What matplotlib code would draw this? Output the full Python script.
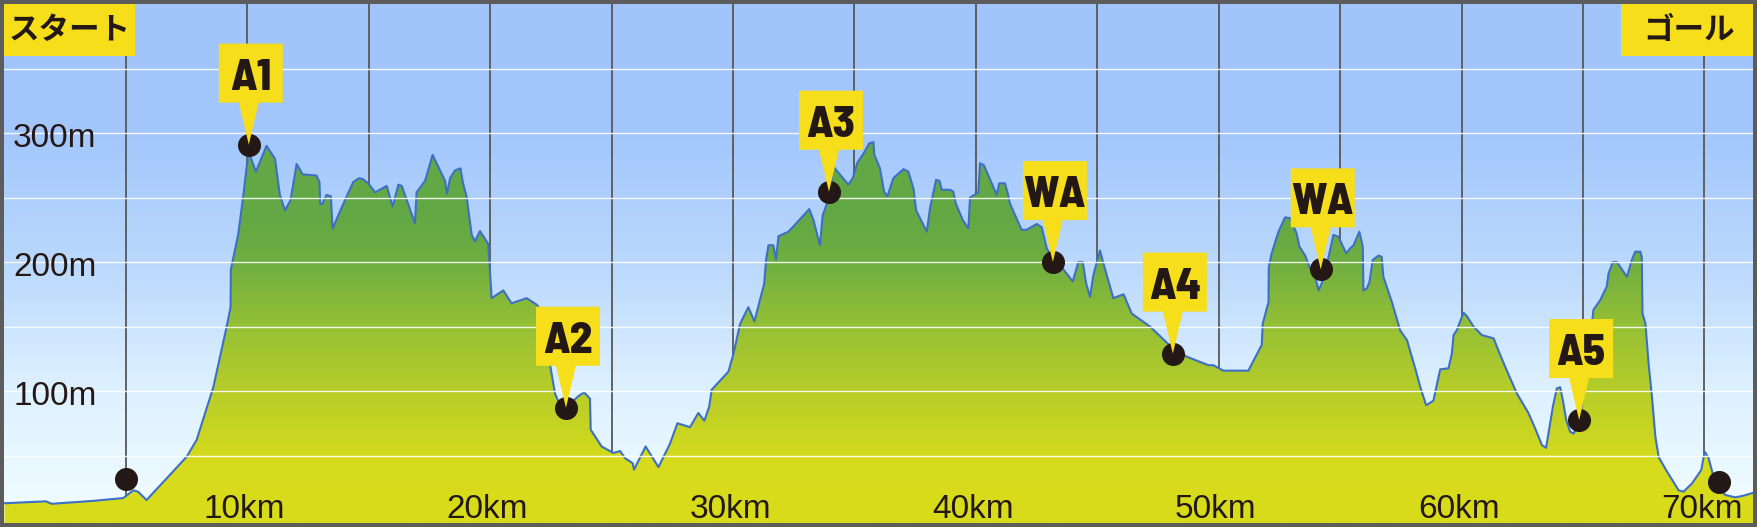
import matplotlib
matplotlib.use('Agg')
import matplotlib.pyplot as plt
import numpy as np
from matplotlib import font_manager
from matplotlib.colors import to_rgb
from matplotlib.patches import Polygon, Rectangle
from matplotlib.transforms import Affine2D, ScaledTranslation, blended_transform_factory

# course profile (distance in km, elevation in m)
dist_km = [
    0.0, 1.7, 1.95, 3.76, 4.0, 4.89, 5.3, 5.5, 5.85, 7.5,
    7.91, 8.6, 9.15, 9.31, 9.32, 9.63, 9.83, 10.05, 10.35, 10.79,
    11.14, 11.34, 11.55, 11.78, 12.03, 12.28, 12.85, 12.97, 13.0, 13.08,
    13.26, 13.44, 13.51, 14.02, 14.36, 14.6, 14.78, 14.98, 15.26, 15.74,
    15.98, 16.22, 16.36, 16.9, 16.97, 17.32, 17.63, 18.14, 18.22, 18.35,
    18.55, 18.78, 18.87, 19.03, 19.24, 19.37, 19.58, 19.92, 20.06, 20.54,
    20.88, 21.5, 21.91, 22.2, 22.46, 22.67, 22.9, 23.12, 23.4, 23.63,
    23.87, 24.11, 24.14, 24.59, 25.07, 25.35, 25.55, 25.87, 25.92, 26.4,
    26.93, 27.4, 27.71, 28.23, 28.57, 28.82, 29.02, 29.12, 29.81, 30.02,
    30.29, 30.63, 30.88, 31.18, 31.28, 31.36, 31.46, 31.66, 31.77, 31.87,
    32.28, 32.55, 33.14, 33.31, 33.58, 33.69, 33.95, 34.13, 34.75, 34.93,
    35.12, 35.37, 35.61, 35.78, 35.82, 36.05, 36.22, 36.36, 36.6, 37.02,
    37.22, 37.43, 37.54, 37.91, 37.98, 38.11, 38.36, 38.5, 38.59, 38.94,
    39.07, 39.18, 39.46, 39.69, 39.76, 40.1, 40.17, 40.33, 40.72, 40.86,
    40.96, 41.2, 41.33, 41.4, 41.88, 42.09, 42.51, 42.71, 42.92, 43.17,
    43.61, 43.99, 44.22, 44.4, 44.54, 44.7, 44.84, 45.11, 45.25, 45.66,
    46.08, 46.42, 46.76, 47.17, 47.72, 48.11, 48.69, 49.1, 49.58, 49.78,
    50.19, 51.22, 51.77, 51.81, 52.05, 52.06, 52.18, 52.46, 52.73, 52.94,
    53.21, 53.32, 53.56, 53.76, 53.97, 54.11, 54.24, 54.45, 54.72, 54.93,
    55.25, 55.41, 55.55, 55.79, 55.93, 55.96, 56.1, 56.21, 56.34, 56.58,
    56.71, 56.78, 57.13, 57.47, 57.75, 58.09, 58.3, 58.54, 58.84, 59.12,
    59.46, 59.6, 59.67, 59.8, 60.08, 60.22, 60.49, 60.83, 61.32, 61.59,
    61.86, 62.28, 62.76, 63.03, 63.31, 63.48, 63.76, 63.92, 64.06, 64.17,
    64.31, 64.47, 64.61, 64.84, 64.95, 65.23, 65.43, 65.71, 65.98, 66.05,
    66.23, 66.39, 66.81, 67.01, 67.15, 67.36, 67.42, 67.45, 67.57, 67.7,
    67.84, 67.98, 68.12, 68.46, 68.94, 69.14, 69.49, 69.87, 70.01, 70.17,
    70.45, 70.86, 71.27, 71.55, 72.03,
]
elev_m = [
    13, 14.5, 12.6, 15, 15.5, 17, 23, 22, 15.5, 49,
    62, 103, 150, 165, 194, 222, 251, 286, 270, 290,
    280, 252, 240, 248, 276, 268, 267, 262, 245, 245,
    252, 251, 226, 248, 262, 265, 264, 261, 254, 259,
    243, 260, 259, 230, 254, 263, 283, 263, 253, 265,
    271, 272.6, 262, 250.6, 221, 216, 224, 214, 172, 178,
    168, 172, 167, 160, 121, 98, 88, 85, 92, 96,
    99, 94, 70, 57, 52, 53.5, 48, 44, 39, 57,
    41, 59, 75, 72, 83, 77, 88, 101, 115, 129,
    152, 165, 154, 176, 183, 201.6, 213, 213, 202, 220,
    223.5, 229, 241, 232.6, 213, 236, 250, 274, 260, 265,
    277, 284, 292, 293, 283, 272.6, 254.5, 251, 265, 272,
    270, 257, 240, 226, 223.5, 241.6, 263.6, 263, 256, 256,
    254.5, 245, 232.6, 226, 250, 254, 276.5, 275, 258, 252,
    261, 261, 252, 245.5, 225, 225, 229.5, 227, 210.6, 202,
    194, 185, 200, 200, 183.5, 173, 190, 209, 199, 172,
    175, 160, 155.5, 150, 140, 133, 126.6, 123.5, 120, 120,
    115.8, 115.8, 135.7, 152, 169, 196, 206.7, 223.5, 234.6, 234,
    222, 212, 205, 195, 188.6, 178, 183.5, 197.7, 221, 219.6,
    206.7, 210.6, 213, 223.5, 212, 178, 179.6, 184.8, 201.6, 205,
    204, 188.6, 169, 147, 139.5, 117.6, 103, 89, 92.5, 116.8,
    117.6, 129, 143.4, 147, 160.7, 158, 150, 143.4, 140.8, 128,
    116, 98, 82.7, 71, 58, 56, 88, 102, 103, 93,
    77.5, 68.5, 67, 75, 88, 129, 163, 170.5, 181, 191,
    200, 200, 188.6, 201.6, 208, 208, 204, 160, 152.5, 121.4,
    95.6, 64.6, 48.6, 37.5, 23, 22, 28.4, 38.8, 53, 48,
    28.4, 19.4, 17.6, 18.6, 21.2,
]
assert len(dist_km) == len(elev_m)

# start, aid stations, goal
point_km = [5.02, 10.06, 23.12, 33.95, 43.17, 48.11, 54.20, 64.84, 70.59]
point_m = [31.5, 291, 87, 254.5, 200, 129, 194.3, 77.5, 29.7]
point_labels = ['', 'A1', 'A2', 'A3', 'WA', 'A4', 'WA', 'A5', '']

grid_km = list(range(5, 71, 5))
grid_m = list(range(50, 351, 50))
km_ticks = [10, 20, 30, 40, 50, 60, 70]
m_ticks = [100, 200, 300]
start_label = 'スタート'
goal_label = 'ゴール'

TEXT = '#231815'
YELLOW = '#f6df1a'
LINE = '#3d70c4'
VGRID = '#575757'
FRAME = '#5c5c5c'

sky_stops = [(0, '#f2fdff'), (100, '#def1ff'), (200, '#bad8fd'), (300, '#a3c7fc'), (400, '#a1c5fb')]
fill_stops = [(0, '#d9dc1a'), (45, '#d6db1c'), (100, '#b6cd29'), (150, '#95c035'),
              (200, '#6fae41'), (235, '#62a844'), (400, '#62a844')]

names = {f.name for f in font_manager.fontManager.ttflist}
label_font = [n for n in ('Barlow Semi Condensed', 'Barlow Condensed', 'Asap Condensed')
              if n in names] + ['DejaVu Sans']
tick_font = 'Liberation Sans' if 'Liberation Sans' in names else 'DejaVu Sans'
jp_font = ['Noto Sans CJK JP', 'DejaVu Sans']


def gradient(stops, ys):
    levels = [s[0] for s in stops]
    cols = np.array([to_rgb(s[1]) for s in stops])
    return np.stack([np.interp(ys, levels, cols[:, i]) for i in range(3)], axis=-1)[:, None, :]


W, H = 1757, 527
fig = plt.figure(figsize=(W / 100, H / 100), dpi=100, facecolor=FRAME)
ax = fig.add_axes([4 / W, 4 / H, (W - 8) / W, (H - 8) / H])
x0, x1 = -0.02, 72.0
y0, y1 = -2.3, 400.0
ax.set_xlim(x0, x1)
ax.set_ylim(y0, y1)
ax.axis('off')

ys = np.linspace(y0, y1, 500)
ax.imshow(gradient(sky_stops, ys), extent=(x0, x1, y0, y1), origin='lower',
          aspect='auto', interpolation='bilinear', zorder=0)

for k in grid_km:
    ax.axvline(k, color=VGRID, lw=1.3, zorder=1)

# terrain fill with vertical gradient
verts = [(dist_km[0], y0)] + list(zip(dist_km, elev_m)) + [(dist_km[-1], y0)]
terrain = Polygon(verts, closed=True, facecolor='none', edgecolor='none', transform=ax.transData)
ax.add_patch(terrain)
im = ax.imshow(gradient(fill_stops, ys), extent=(x0, x1, y0, y1), origin='lower',
               aspect='auto', interpolation='bilinear', zorder=2)
im.set_clip_path(terrain)
ax.plot(dist_km, elev_m, color=LINE, lw=1.5, zorder=3, solid_joinstyle='round')

for m in grid_m:
    ax.axhline(m, color='white', lw=1.0, alpha=0.9, zorder=4)

ytr = blended_transform_factory(ax.transAxes, ax.transData)
for m in m_ticks:
    ax.text(0.0052, m - 11, f'{m}m', transform=ytr, fontsize=24, family=tick_font,
            color=TEXT, va='baseline', ha='left', zorder=5)
xtr = blended_transform_factory(ax.transData, ax.transAxes)
for k in km_ticks:
    ax.text(k - 0.12, 0.0096, f'{k}km', transform=xtr, fontsize=24, family=tick_font,
            color=TEXT, va='baseline', ha='center', zorder=5)

ax.plot(point_km, point_m, 'o', ms=16.6, color=TEXT, mec='none', zorder=6)

# callout flags above the aid stations
flag = [(-30, 42), (-10, 42), (0, 0), (10, 42), (34, 42), (34, 101), (-30, 101)]
for k, m, lab in zip(point_km, point_m, point_labels):
    if not lab:
        continue
    tr = Affine2D().scale(fig.dpi / 100.0) + ScaledTranslation(k, m, ax.transData)
    ax.add_patch(Polygon(flag, closed=True, facecolor=YELLOW, edgecolor='none',
                         transform=tr, zorder=7, clip_on=False))
    ax.text(2, 55, lab, transform=tr, ha='center', va='baseline', fontsize=32,
            fontweight=800, family=label_font, color=TEXT, zorder=8)

# start / goal tags
ax.add_patch(Rectangle((0, 0.900), 0.0749, 0.1, transform=ax.transAxes,
                       facecolor=YELLOW, edgecolor='none', zorder=9))
ax.text(0.0377, 0.950, start_label, transform=ax.transAxes, ha='center', va='center',
        fontsize=22, fontweight='bold', family=jp_font, color=TEXT, zorder=10)
ax.add_patch(Rectangle((0.9245, 0.900), 0.0755, 0.1, transform=ax.transAxes,
                       facecolor=YELLOW, edgecolor='none', zorder=9))
ax.text(0.9634, 0.950, goal_label, transform=ax.transAxes, ha='center', va='center',
        fontsize=22, fontweight='bold', family=jp_font, color=TEXT, zorder=10)

fig.savefig('out.png', dpi=100, facecolor=fig.get_facecolor())
